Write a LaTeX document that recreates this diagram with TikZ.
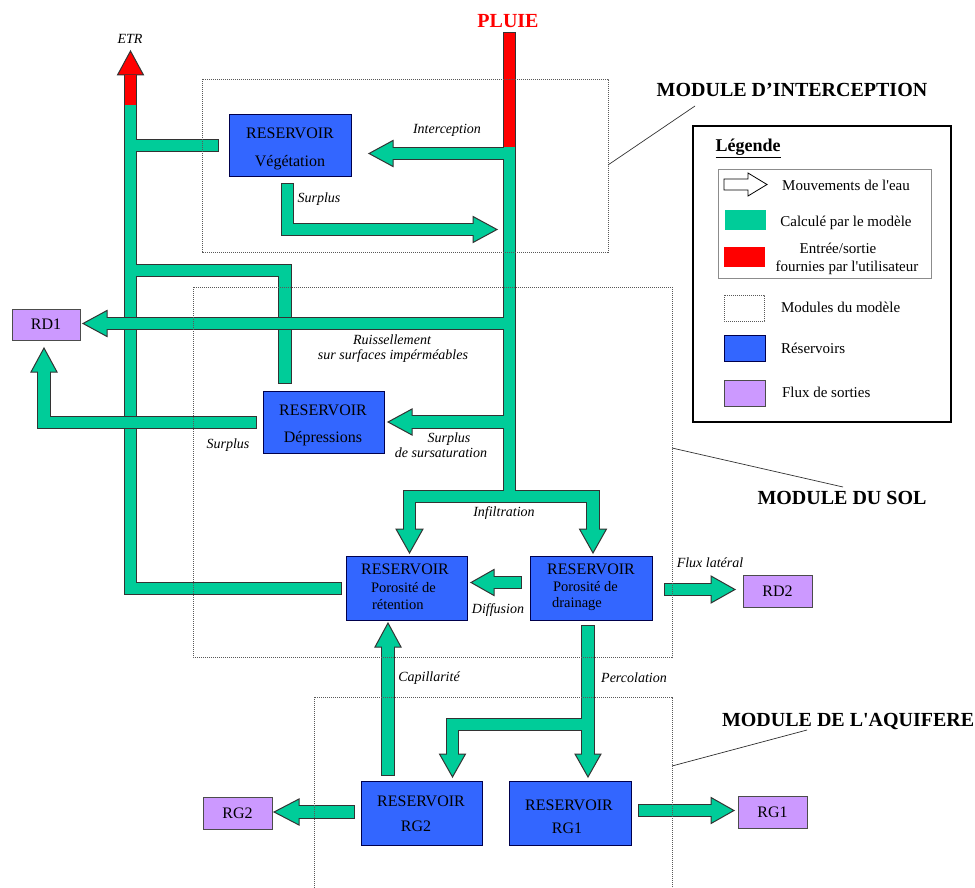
\documentclass[tikz,border=0pt]{standalone}
\usepackage{fontspec}
\setmainfont{Liberation Serif}
\definecolor{gr}{HTML}{00CC99}
\definecolor{bl}{HTML}{3366FF}
\definecolor{pu}{HTML}{CC99FF}
\definecolor{rd}{HTML}{FF0000}
\newcommand\flab{\fontsize{14}{16}\selectfont\itshape}
\newcommand\fres{\fontsize{16}{18}\selectfont}
\newcommand\fsmall{\fontsize{14.5}{16}\selectfont}
\newcommand\fleg{\fontsize{15}{17}\selectfont}
\newcommand\ftitle{\fontsize{20}{22}\selectfont\bfseries}
\tikzset{
  outl/.style={line width=13.5pt, draw=black!80, line cap=rect, line join=miter},
  fillg/.style={line width=11.5pt, draw=gr, line cap=rect, line join=miter},
  fillr/.style={line width=11.5pt, draw=rd, line cap=butt},
  headg/.style={fill=gr, draw=black!80, line width=1pt, line join=miter},
  headr/.style={fill=rd, draw=black!80, line width=1pt, line join=miter},
  resbox/.style={draw=black!70!blue, fill=bl, line width=0.9pt},
  outbox/.style={draw=black!70, fill=pu, line width=0.9pt, font=\fres},
  modbox/.style={draw=black!65, line width=0.7pt, dash pattern=on 1.2pt off 0.8pt},
  leader/.style={draw=black!80, line width=0.7pt},
  t/.style={anchor=base}
}
\begin{document}
\begin{tikzpicture}[x=1pt,y=-1pt, every node/.style={inner sep=0pt, outer sep=0pt}]
\useasboundingbox[fill=white] (0,0) rectangle (975,888);

% ---------- ETR network ----------
\draw[outl] (130.5,75) -- (130.5,588.5) -- (335.5,588.5);
\draw[outl] (130.5,145.5) -- (212.5,145.5);
\draw[outl] (130.5,270.5) -- (285,270.5) -- (285,377.5);
\draw[headr] (117.5,75) -- (130.5,51) -- (143.5,75) -- cycle;
\draw[fillg] (130.5,105) -- (130.5,588.5) -- (335.5,588.5);
\draw[fillg] (130.5,145.5) -- (212.5,145.5);
\draw[fillg] (130.5,270.5) -- (285,270.5) -- (285,377.5);
\draw[fillr] (130.5,75) -- (130.5,105);

% ---------- Vegetation surplus ----------
\draw[outl] (287.5,189.5) -- (287.5,229.5) -- (473,229.5);
\draw[headg] (473,216.5) -- (497,229.5) -- (473,242.5) -- cycle;
\draw[fillg] (287.5,189.5) -- (287.5,229.5) -- (473,229.5);

% ---------- Depressions surplus to RD1 ----------
\draw[outl] (250.5,422.5) -- (44,422.5) -- (44,372);
\draw[headg] (31,372) -- (44,348) -- (57,372) -- cycle;
\draw[fillg] (250.5,422.5) -- (44,422.5) -- (44,372);

% ---------- Main (PLUIE) network ----------
\draw[outl] (509.5,38.5) -- (509.5,496.5);
\draw[outl] (509.5,153.5) -- (393,153.5);
\draw[outl] (509.5,323.5) -- (107,323.5);
\draw[outl] (509.5,422) -- (412,422);
\draw[outl] (409.5,529) -- (409.5,496.5) -- (593,496.5) -- (593,529);
\draw[headg] (393,140.5) -- (369,153.5) -- (393,166.5) -- cycle;
\draw[headg] (107,310.5) -- (83,323.5) -- (107,336.5) -- cycle;
\draw[headg] (412,409) -- (388,422) -- (412,435) -- cycle;
\draw[headg] (396,529) -- (409.5,553) -- (423,529) -- cycle;
\draw[headg] (579.5,529) -- (593,553) -- (606.5,529) -- cycle;
\draw[fillg] (509.5,147) -- (509.5,496.5);
\draw[fillg] (509.5,153.5) -- (393,153.5);
\draw[fillg] (509.5,323.5) -- (107,323.5);
\draw[fillg] (509.5,422) -- (412,422);
\draw[fillg] (409.5,529) -- (409.5,496.5) -- (593,496.5) -- (593,529);
\draw[fillr] (509.5,32.75) -- (509.5,147);

% ---------- Diffusion ----------
\draw[outl] (515.5,582.5) -- (494,582.5);
\draw[headg] (494,569.5) -- (471,582.5) -- (494,595.5) -- cycle;
\draw[fillg] (515.5,582.5) -- (494,582.5);
% ---------- Flux lateral ----------
\draw[outl] (670.5,589.5) -- (711,589.5);
\draw[headg] (711,576) -- (735,589.5) -- (711,603) -- cycle;
\draw[fillg] (670.5,589.5) -- (711,589.5);
% ---------- Capillarite ----------
\draw[outl] (388,769.5) -- (388,647);
\draw[headg] (375,647) -- (388,623) -- (401,647) -- cycle;
\draw[fillg] (388,769.5) -- (388,647);
% ---------- Percolation ----------
\draw[outl] (588,631.5) -- (588,754);
\draw[outl] (588,724.5) -- (452.5,724.5) -- (452.5,754);
\draw[headg] (575,754) -- (588,777) -- (601,754) -- cycle;
\draw[headg] (439.5,754) -- (452.5,777) -- (465.5,754) -- cycle;
\draw[fillg] (588,631.5) -- (588,754);
\draw[fillg] (588,724.5) -- (452.5,724.5) -- (452.5,754);
% ---------- RG2 / RG1 outputs ----------
\draw[outl] (348.5,812) -- (299,812);
\draw[headg] (299,799) -- (274,812) -- (299,825) -- cycle;
\draw[fillg] (348.5,812) -- (299,812);
\draw[outl] (644.5,810.5) -- (711,810.5);
\draw[headg] (711,797.5) -- (734,810.5) -- (711,823.5) -- cycle;
\draw[fillg] (644.5,810.5) -- (711,810.5);

% ---------- Reservoir boxes ----------
\node[resbox, minimum width=122pt, minimum height=62pt] (veg) at (290,145) {};
\node[resbox, minimum width=121pt, minimum height=62pt] (dep) at (323.5,422) {};
\node[resbox, minimum width=121pt, minimum height=64pt] (ret) at (406.5,588) {};
\node[resbox, minimum width=122pt, minimum height=64pt] (dra) at (591,588) {};
\node[resbox, minimum width=121pt, minimum height=64pt] (rg2r) at (421.5,813) {};
\node[resbox, minimum width=122pt, minimum height=64pt] (rg1r) at (570,813) {};
% ---------- output boxes ----------
\node[outbox, minimum width=68pt, minimum height=31pt] (rd1) at (46,324.5) {RD1};
\node[outbox, minimum width=69pt, minimum height=32pt] (rd2) at (777.5,591) {RD2};
\node[outbox, minimum width=69pt, minimum height=32pt] (rg2) at (237.5,813) {RG2};
\node[outbox, minimum width=69pt, minimum height=32pt] (rg1) at (772.5,812) {RG1};

% ---------- module boxes ----------
\draw[modbox] (202,79) rectangle (608,252);
\draw[modbox] (193,287) rectangle (672,657);
\draw[modbox] (314,888) -- (314,697) -- (672,697) -- (672,888);
\draw[leader] (608,165) -- (695,106);
\draw[leader] (672,448) -- (843,487);
\draw[leader] (672,766) -- (807,730);

% ---------- box texts ----------
\node[t, font=\fres] (vegA) at (290,138.5) {RESERVOIR};
\node[t, font=\fres] (vegB) at (290,166.5) {Végétation};
\node[t, font=\fres] (depA) at (323,415.5) {RESERVOIR};
\node[t, font=\fres] (depB) at (323,442.5) {Dépressions};
\node[t, font=\fres] (retA) at (405,574.5) {RESERVOIR};
\node[anchor=base west, font=\fsmall] (retB) at (371,592) {Porosité de};
\node[anchor=base west, font=\fsmall] (retC) at (372,609) {rétention};
\node[t, font=\fres] (draA) at (591,574.5) {RESERVOIR};
\node[anchor=base west, font=\fsmall] (draB) at (553,591) {Porosité de};
\node[anchor=base west, font=\fsmall] (draC) at (552,607) {drainage};
\node[t, font=\fres] (rg2A) at (421,806.5) {RESERVOIR};
\node[t, font=\fres] (rg2B) at (416,831.5) {RG2};
\node[t, font=\fres] (rg1A) at (569,810.5) {RESERVOIR};
\node[t, font=\fres] (rg1B) at (567,833.5) {RG1};

% ---------- flow labels ----------
\node[t, font=\flab] (etr) at (130,44) {ETR};
\node[t, font=\ftitle, text=rd] (pluie) at (508,28) {PLUIE};
\node[t, font=\flab] (lint) at (447,134) {Interception};
\node[t, font=\flab] (lsur1) at (319,203) {Surplus};
\node[t, font=\flab] (lru1) at (392,344) {Ruissellement};
\node[t, font=\flab] (lru2) at (393,359) {sur surfaces impérméables};
\node[t, font=\flab] (lsur2) at (228,448) {Surplus};
\node[t, font=\flab] (lss1) at (449,442) {Surplus};
\node[t, font=\flab] (lss2) at (441,457) {de sursaturation};
\node[t, font=\flab] (linf) at (504,516) {Infiltration};
\node[t, font=\flab] (ldif) at (498,613) {Diffusion};
\node[t, font=\flab] (lfl) at (710,567) {Flux latéral};
\node[t, font=\flab] (lcap) at (429,681) {Capillarité};
\node[t, font=\flab] (lper) at (634,682) {Percolation};

% ---------- module titles ----------
\node[t, font=\ftitle] (tint) at (792,97) {MODULE D’INTERCEPTION};
\node[t, font=\ftitle] (tsol) at (842,504) {MODULE DU SOL};
\node[anchor=base west, font=\ftitle] (taq) at (722,726) {MODULE DE L\textquotesingle AQUIFERE};

% ---------- legend ----------
\draw[line width=2pt] (693,126) rectangle (951,422);
\node[t, font=\fontsize{18}{20}\selectfont\bfseries] (legt) at (748,152) {\underline{Légende}};
\draw[draw=black!45, line width=0.8pt] (718,169) rectangle (931,278);
\draw[draw=black, fill=white, line width=0.8pt, line join=miter] (724,179) -- (748,179) -- (748,173) -- (767,184.5) -- (748,196) -- (748,190) -- (724,190) -- cycle;
\node[t, font=\fleg] (lg1) at (846,190) {Mouvements de l\textquotesingle eau};
\fill[gr] (725,210) rectangle (766,230);
\node[t, font=\fleg] (lg2) at (846,226) {Calculé par le modèle};
\fill[rd] (724,247) rectangle (765,267);
\node[t, font=\fleg] (lg3) at (838,253) {Entrée/sortie};
\node[t, font=\fleg] (lg4) at (847,271) {fournies par l\textquotesingle utilisateur};
\draw[modbox] (724,295) rectangle (764,321);
\node[anchor=base west, font=\fleg] (lg5) at (781,312) {Modules du modèle};
\draw[resbox] (724,335) rectangle (765,361);
\node[anchor=base west, font=\fleg] (lg6) at (781,353) {Réservoirs};
\draw[draw=black!70, fill=pu, line width=0.9pt] (724,380) rectangle (765,406);
\node[anchor=base west, font=\fleg] (lg7) at (782,397) {Flux de sorties};
\end{tikzpicture}
\end{document}
